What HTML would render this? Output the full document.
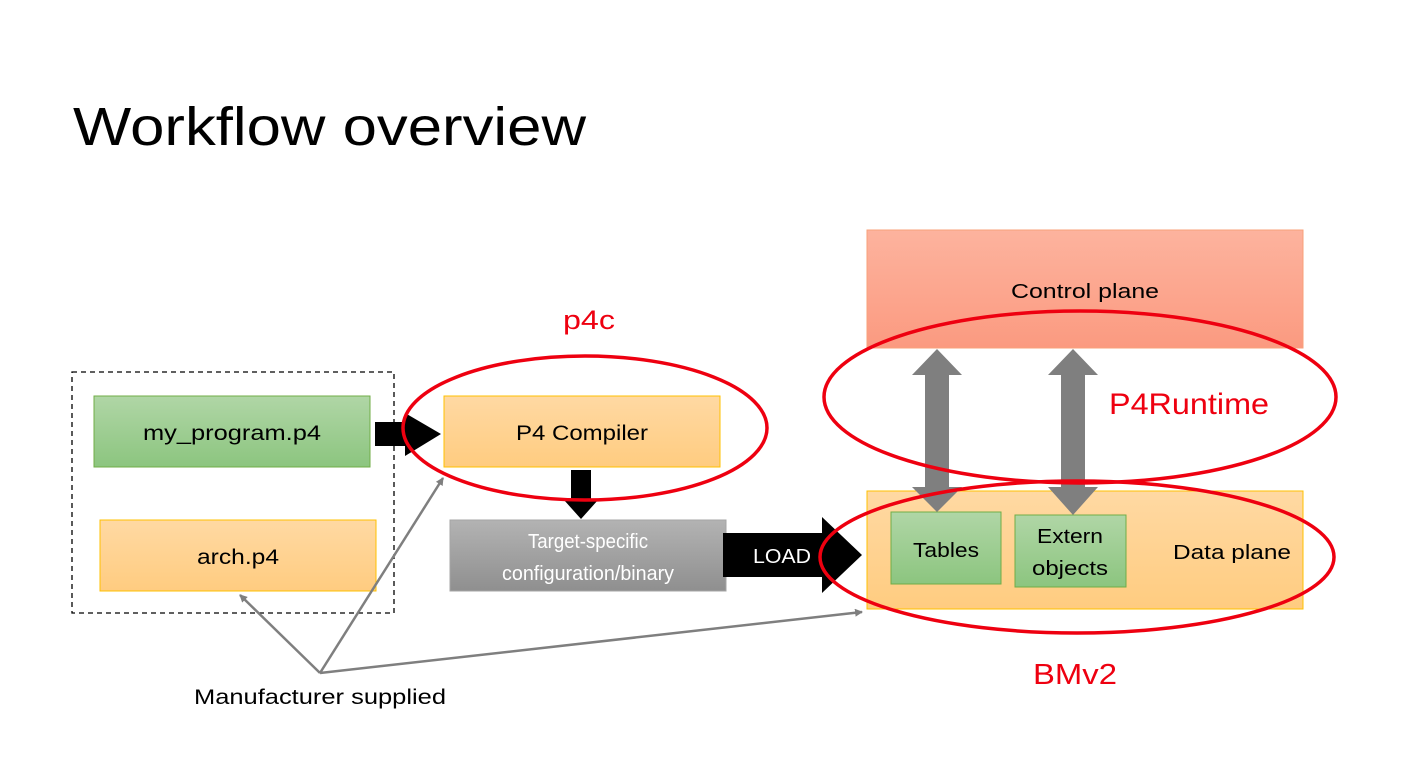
<!DOCTYPE html>
<html><head><meta charset="utf-8"><style>
html,body{margin:0;padding:0;background:#fff;}
svg{display:block;}
text{font-family:"Liberation Sans",sans-serif;}
</style></head><body>
<svg width="1401" height="766" viewBox="0 0 1401 766" xmlns="http://www.w3.org/2000/svg">
<defs>
<linearGradient id="gr" x1="0" y1="0" x2="0" y2="1"><stop offset="0" stop-color="#b0d6a6"/><stop offset="1" stop-color="#8cc57f"/></linearGradient>
<linearGradient id="or" x1="0" y1="0" x2="0" y2="1"><stop offset="0" stop-color="#ffd9a3"/><stop offset="1" stop-color="#ffcc80"/></linearGradient>
<linearGradient id="gy" x1="0" y1="0" x2="0" y2="1"><stop offset="0" stop-color="#b3b3b3"/><stop offset="1" stop-color="#8f8f8f"/></linearGradient>
<linearGradient id="rd" x1="0" y1="0" x2="0" y2="1"><stop offset="0" stop-color="#fdb39e"/><stop offset="1" stop-color="#fb9a80"/></linearGradient>
<marker id="ah" markerWidth="8" markerHeight="8" refX="7" refY="4" orient="auto" markerUnits="userSpaceOnUse"><path d="M0,0 L8,4 L0,8 z" fill="#7f7f7f"/></marker>
</defs>

<text x="73" y="145" font-size="54" textLength="513" lengthAdjust="spacingAndGlyphs">Workflow overview</text>

<!-- dashed box -->
<rect x="72" y="372" width="322" height="241" fill="none" stroke="#000" stroke-width="1.3" stroke-dasharray="5,4"/>
<rect x="94" y="396" width="276" height="71" fill="url(#gr)" stroke="#70ad47" stroke-width="1"/>
<text x="232" y="440" font-size="21" text-anchor="middle" textLength="178" lengthAdjust="spacingAndGlyphs">my_program.p4</text>
<rect x="100" y="520" width="276" height="71" fill="url(#or)" stroke="#ffc000" stroke-width="1"/>
<text x="238" y="564" font-size="21" text-anchor="middle" textLength="82" lengthAdjust="spacingAndGlyphs">arch.p4</text>

<!-- arrow to compiler -->
<path d="M375,422 H405 V413 L441,434 L405,456 V446 H375 z" fill="#000"/>

<rect x="444" y="396" width="276" height="71" fill="url(#or)" stroke="#ffc000" stroke-width="1"/>
<text x="582" y="440" font-size="21" text-anchor="middle" textLength="132" lengthAdjust="spacingAndGlyphs">P4 Compiler</text>

<!-- down arrow -->
<path d="M571,470 H591 V500 H598 L581,519 L564,500 H571 z" fill="#000"/>

<rect x="450" y="520" width="276" height="71" fill="url(#gy)" stroke="#a5a5a5" stroke-width="1"/>
<text x="588" y="548" font-size="20" fill="#fff" text-anchor="middle" textLength="120" lengthAdjust="spacingAndGlyphs">Target-specific</text>
<text x="588" y="580" font-size="20" fill="#fff" text-anchor="middle" textLength="172" lengthAdjust="spacingAndGlyphs">configuration/binary</text>

<!-- LOAD arrow -->
<path d="M723,533 H822 V517 L862,555 L822,593 V577 H723 z" fill="#000"/>
<text x="782" y="563" font-size="20" fill="#fff" text-anchor="middle" textLength="58" lengthAdjust="spacingAndGlyphs">LOAD</text>

<!-- control plane -->
<rect x="867" y="230" width="436" height="118" fill="url(#rd)" stroke="#f8a07a" stroke-width="1"/>
<text x="1085" y="298" font-size="20" text-anchor="middle" textLength="148" lengthAdjust="spacingAndGlyphs">Control plane</text>

<!-- data plane -->
<rect x="867" y="491" width="436" height="118" fill="url(#or)" stroke="#ffc000" stroke-width="1"/>
<text x="1232" y="559" font-size="20" text-anchor="middle" textLength="118" lengthAdjust="spacingAndGlyphs">Data plane</text>
<rect x="891" y="512" width="110" height="72" fill="url(#gr)" stroke="#70ad47" stroke-width="1"/>
<text x="946" y="557" font-size="20" text-anchor="middle" textLength="66" lengthAdjust="spacingAndGlyphs">Tables</text>
<rect x="1015" y="515" width="111" height="72" fill="url(#gr)" stroke="#70ad47" stroke-width="1"/>
<text x="1070" y="543" font-size="20" text-anchor="middle" textLength="66" lengthAdjust="spacingAndGlyphs">Extern</text>
<text x="1070" y="575" font-size="20" text-anchor="middle" textLength="76" lengthAdjust="spacingAndGlyphs">objects</text>

<!-- double arrows -->
<path d="M937,349 L962,375 H949 V487 H962 L937,512 L912,487 H925 V375 H912 z" fill="#7f7f7f"/>
<path d="M1073,349 L1098,375 H1085 V487 H1098 L1073,515 L1048,487 H1061 V375 H1048 z" fill="#7f7f7f"/>

<!-- gray lines -->
<g stroke="#7f7f7f" stroke-width="2.5" fill="none">
<line x1="320" y1="673" x2="240" y2="595" marker-end="url(#ah)"/>
<line x1="320" y1="673" x2="443" y2="478" marker-end="url(#ah)"/>
<line x1="320" y1="673" x2="862" y2="612" marker-end="url(#ah)"/>
</g>
<text x="320" y="704" font-size="21" text-anchor="middle" textLength="252" lengthAdjust="spacingAndGlyphs">Manufacturer supplied</text>

<!-- red ellipses -->
<g fill="none" stroke="#ee0010" stroke-width="3.5">
<ellipse cx="585" cy="428" rx="182" ry="72"/>
<ellipse cx="1080" cy="397" rx="256" ry="86"/>
<ellipse cx="1077" cy="557" rx="257" ry="76"/>
</g>
<text x="589" y="329" font-size="27" fill="#ee0010" text-anchor="middle" textLength="52" lengthAdjust="spacingAndGlyphs">p4c</text>
<text x="1189" y="414" font-size="30" fill="#ee0010" text-anchor="middle" textLength="160" lengthAdjust="spacingAndGlyphs">P4Runtime</text>
<text x="1075" y="684" font-size="29" fill="#ee0010" text-anchor="middle" textLength="84" lengthAdjust="spacingAndGlyphs">BMv2</text>
</svg>
</body></html>
